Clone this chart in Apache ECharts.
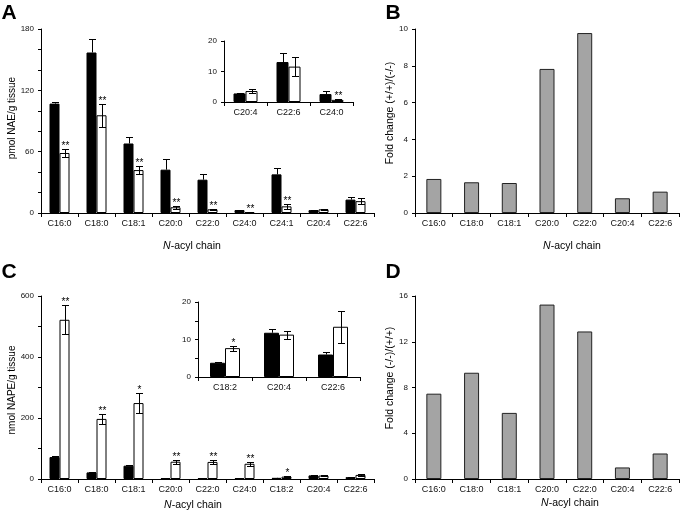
<!DOCTYPE html>
<html><head><meta charset="utf-8">
<script src="https://cdn.jsdelivr.net/npm/echarts@6/dist/echarts.min.js"></script>
<style>html,body{margin:0;padding:0;background:#fff}#c{width:682px;height:520px}</style>
</head><body><div id="c"></div>
<script>
// ---------- Data ----------
// Panel A: NAE (pmol/g tissue), black = (+/+), white = (-/-)
const catA = ['C16:0','C18:0','C18:1','C20:0','C22:0','C24:0','C24:1','C20:4','C22:6'];
const naeWT = [107, 157, 68, 42.4, 32.6, 2.9, 37.8, 2.8, 13.1];
const naeWTErr = [1.5, 13, 6, 10, 6, 0.5, 6, 0.3, 3];
const naeKO = [58.7, 95.6, 42, 5.6, 3.6, 0.7, 6.5, 3.6, 11.6];
const naeKOErr = [4, 11, 4, 1.2, 0.6, 0.15, 2.5, 0.5, 3];
const naeSig = ['**','**','**','**','**','**','**','',''];
// Panel A inset
const catAIn = ['C20:4','C22:6','C24:0'];
const naeInWT = [2.8, 13.1, 2.6];
const naeInWTErr = [0.3, 3, 0.9];
const naeInKO = [3.6, 11.6, 0.7];
const naeInKOErr = [0.5, 3, 0.15];
const naeInSig = ['', '', '**'];
// Panel B: fold change (+/+)/(-/-)
const catB = ['C16:0','C18:0','C18:1','C20:0','C22:0','C20:4','C22:6'];
const foldB = [1.85, 1.67, 1.63, 7.83, 9.78, 0.8, 1.16];
// Panel C: NAPE (nmol/g tissue)
const catC = ['C16:0','C18:0','C18:1','C20:0','C22:0','C24:0','C18:2','C20:4','C22:6'];
const napeWT = [72, 21.6, 43.6, 3, 3, 3, 3.8, 11.8, 6.0];
const napeWTErr = [5, 2, 2, 0.5, 0.5, 0.5, 0.2, 0.9, 0.6];
const napeKO = [522, 197, 249, 56.7, 56, 50, 7.7, 11.3, 13.4];
const napeKOErr = [47, 17, 32, 6, 7, 6, 0.7, 1.1, 4.2];
const napeSig = ['**','**','*','**','**','**','*','',''];
// Panel C inset
const catCIn = ['C18:2','C20:4','C22:6'];
const napeInWT = [3.8, 11.8, 6.0];
const napeInWTErr = [0.2, 0.9, 0.6];
const napeInKO = [7.7, 11.3, 13.4];
const napeInKOErr = [0.7, 1.1, 4.2];
const napeInSig = ['*', '', ''];
// Panel D: fold change (-/-)/(+/+)
const catD = ['C16:0','C18:0','C18:1','C20:0','C22:0','C20:4','C22:6'];
const foldD = [7.46, 9.29, 5.78, 15.25, 12.9, 1.01, 2.23];

// ---------- Chart ----------
const FF = '"Liberation Sans", Arial, sans-serif';
const chart = echarts.init(document.getElementById('c'), null, {renderer:'canvas'});

function catAxis(gi, data){
  return {type:'category', gridIndex:gi, data:data,
    axisLine:{show:true, lineStyle:{color:'#000', width:1}},
    axisTick:{show:true, length:4, lineStyle:{color:'#000'}},
    axisLabel:{color:'#111', fontSize:9, margin:6, fontFamily:FF, interval:0},
    splitLine:{show:false}};
}
function valAxis(gi, max, interval, labelStep){
  return {type:'value', gridIndex:gi, min:0, max:max, interval:interval,
    axisLine:{show:true, lineStyle:{color:'#000', width:1}},
    axisTick:{show:true, length:3, lineStyle:{color:'#000'}},
    splitLine:{show:false},
    axisLabel:{color:'#111', fontSize:8, margin:7, fontFamily:FF,
      formatter: v => (Math.round(v) % labelStep === 0 ? String(v) : '')}};
}
function barS(gi, data, color, bw){
  return {type:'bar', xAxisIndex:gi, yAxisIndex:gi, data:data, barWidth:bw, barGap:'0%',
    itemStyle:{color:color, borderColor:'#000', borderWidth:1}, silent:true};
}
function grayS(gi, data, bw){
  return {type:'bar', xAxisIndex:gi, yAxisIndex:gi, data:data, barWidth:bw,
    itemStyle:{color:'#a4a4a4', borderColor:'#222', borderWidth:1}, silent:true};
}
function errS(gi, vals, errs, sig, side, bw, cap, both){
  return {type:'custom', xAxisIndex:gi, yAxisIndex:gi, z:10, silent:true,
    data: vals.map((v,i)=>[i, v, errs[i]]),
    renderItem: function(params, api){
      const i = api.value(0), v = api.value(1), e = api.value(2);
      const c = api.coord([i, v]);
      const x = Math.round(c[0] + side*bw/2) + 0.5;
      const yt = Math.round(api.coord([i, v+e])[1]) + 0.5;
      const yb = Math.round(api.coord([i, Math.max(0, v-e)])[1]) + 0.5;
      const ls = {stroke:'#000', lineWidth:1};
      const ch = [];
      ch.push({type:'line', shape:{x1:x, y1: both ? yb : c[1], x2:x, y2:yt}, style:ls});
      ch.push({type:'line', shape:{x1:x-cap/2, y1:yt, x2:x+cap/2, y2:yt}, style:ls});
      if (both) ch.push({type:'line', shape:{x1:x-cap/2, y1:yb, x2:x+cap/2, y2:yb}, style:ls});
      const s = sig[params.dataIndex];
      if (s) ch.push({type:'text', style:{text:s, x:x, y:yt-3, align:'center', verticalAlign:'middle',
        fontSize:10, fontFamily:FF, fill:'#000'}});
      return {type:'group', children:ch};
    }};
}
function txt(x, y, text, size, opts){
  opts = opts || {};
  return {type:'text', x:x, y:y, rotation: opts.rot || 0, silent:true,
    style:{text:text, x:0, y:0, align:'center', verticalAlign:'middle', fontSize:size,
      fontFamily:FF, fontWeight: opts.bold ? 'bold' : 'normal', fill:'#000',
      rich: opts.rich}};
}
const richN = {i:{fontStyle:'italic', fontSize:10.5, fontFamily:FF}};

const option = {
  animation:false,
  backgroundColor:'#fff',
  grid:[
    {left:41, top:29, width:333, height:184},   // A
    {left:224, top:41, width:129, height:61},   // A inset
    {left:415, top:29, width:264, height:184},  // B
    {left:41, top:296, width:333, height:183},  // C
    {left:198, top:302, width:162, height:75},  // C inset
    {left:415, top:296, width:264, height:183}  // D
  ],
  xAxis:[catAxis(0,catA), catAxis(1,catAIn), catAxis(2,catB), catAxis(3,catC), catAxis(4,catCIn), catAxis(5,catD)],
  yAxis:[valAxis(0,180,20,60), valAxis(1,20,10,10), valAxis(2,10,2,2), valAxis(3,600,100,200), valAxis(4,20,5,10), valAxis(5,16,4,4)],
  series:[
    barS(0, naeWT, '#000', 10), barS(0, naeKO, '#fff', 10),
    errS(0, naeWT, naeWTErr, [], -1, 10, 7, false),
    errS(0, naeKO, naeKOErr, naeSig, 1, 10, 7, true),
    barS(1, naeInWT, '#000', 12), barS(1, naeInKO, '#fff', 12),
    errS(1, naeInWT, naeInWTErr, [], -1, 12, 7, false),
    errS(1, naeInKO, naeInKOErr, naeInSig, 1, 12, 7, true),
    grayS(2, foldB, 15),
    barS(3, napeWT, '#000', 10), barS(3, napeKO, '#fff', 10),
    errS(3, napeWT, napeWTErr, [], -1, 10, 7, false),
    errS(3, napeKO, napeKOErr, napeSig, 1, 10, 7, true),
    barS(4, napeInWT, '#000', 15), barS(4, napeInKO, '#fff', 15),
    errS(4, napeInWT, napeInWTErr, [], -1, 15, 7, false),
    errS(4, napeInKO, napeInKOErr, napeInSig, 1, 15, 7, true),
    grayS(5, foldD, 15)
  ],
  graphic:[
    txt(9, 13, 'A', 21, {bold:true}),
    txt(393, 13, 'B', 21, {bold:true}),
    txt(9, 272, 'C', 21, {bold:true}),
    txt(393, 272, 'D', 21, {bold:true}),
    txt(12, 118, 'pmol NAE/g tissue', 10, {rot:Math.PI/2}),
    txt(390, 113, 'Fold change (+/+)/(-/-)', 10.5, {rot:Math.PI/2}),
    txt(12, 390, 'nmol NAPE/g tissue', 10, {rot:Math.PI/2}),
    txt(390, 378, 'Fold change (-/-)/(+/+)', 10.5, {rot:Math.PI/2}),
    txt(192, 246, '{i|N}-acyl chain', 10.5, {rich:richN}),
    txt(572, 246, '{i|N}-acyl chain', 10.5, {rich:richN}),
    txt(193, 505, '{i|N}-acyl chain', 10.5, {rich:richN}),
    txt(570, 503, '{i|N}-acyl chain', 10.5, {rich:richN})
  ]
};
chart.setOption(option);
</script>
</body></html>
